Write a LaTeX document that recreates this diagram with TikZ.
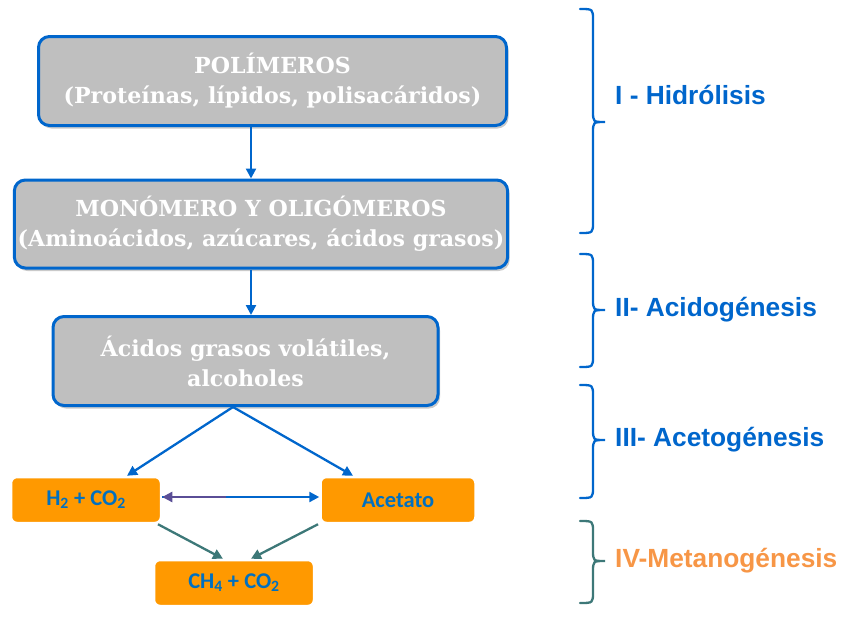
\documentclass[tikz,border=0pt]{standalone}
\usepackage{fontspec}
\usetikzlibrary{arrows.meta,shadows}
\newfontfamily\arialfont{Liberation Sans}
\newfontfamily\calfont{Carlito}
\newfontfamily\serffont{DejaVu Serif}
\definecolor{bblue}{HTML}{0066CC}
\definecolor{tblue}{HTML}{0070C0}
\definecolor{gbox}{HTML}{BFBFBF}
\definecolor{obox}{HTML}{FF9900}
\definecolor{teal2}{HTML}{3D7878}
\definecolor{purp}{HTML}{5A4E96}
\definecolor{olab}{HTML}{F79646}
\tikzset{
  graybox/.style={draw=bblue, line width=3pt, fill=gbox, rounded corners=11pt,
    text=white, font={\serffont\bfseries\fontsize{22.1}{30}\selectfont}, align=center,
    drop shadow={shadow xshift=2pt, shadow yshift=-3pt, opacity=0.35, fill=black!60}},
  orangebox/.style={draw=white, line width=2.5pt, fill=obox, rounded corners=6pt,
    text=tblue, font={\calfont\bfseries\fontsize{22.5}{26}\selectfont}, align=center,
    drop shadow={shadow xshift=0.5pt, shadow yshift=-0.8pt, opacity=0.25, fill=black!50}},
  barrow/.style={draw=bblue, line width=2.3pt, -{Triangle[length=10pt,width=10pt]}},
  tarrow/.style={draw=teal2, line width=2.3pt, -{Triangle[length=10pt,width=10pt]}},
  stagelabel/.style={anchor=west, font={\arialfont\bfseries\fontsize{26.3}{30}\selectfont}, inner sep=0pt},
  bracestyle/.style={line width=2.3pt, line cap=round}
}
\newcommand{\mybrace}[4]{% color, top, tip, bottom
  \draw[bracestyle, draw=#1] (580,#2) .. controls (593,#2) .. (593,#2+11)
    -- (593,#3-11) .. controls (593,#3) .. (605,#3)
    .. controls (593,#3) .. (593,#3+11)
    -- (593,#4-11) .. controls (593,#4) .. (580,#4);}
\begin{document}
\begin{tikzpicture}[x=1pt,y=-1pt]
\useasboundingbox (0,0) rectangle (843,616);

\node[graybox, minimum width=468pt, minimum height=89pt] (b1) at (272.5,81)
  {POLÍMEROS\\(Proteínas, lípidos, polisacáridos)};
\node[graybox, minimum width=490pt, minimum height=88pt] (b2) at (261,224)
  {MONÓMERO Y OLIGÓMEROS\\(Aminoácidos, azúcares, ácidos grasos)};
\node[graybox, minimum width=385pt, minimum height=89pt] (b3) at (245.5,361)
  {Ácidos grasos volátiles,\\alcoholes};

\node[orangebox, minimum width=150pt, minimum height=46pt] (h2) at (86,500)
  {H\textsubscript{2} + CO\textsubscript{2}};
\node[orangebox, minimum width=155pt, minimum height=46pt] (ac) at (398,500)
  {Acetato};
\node[orangebox, minimum width=160pt, minimum height=46pt] (ch4) at (234,583)
  {CH\textsubscript{4} + CO\textsubscript{2}};

\draw[barrow] (251,0 |- b1.south) -- (251,0 |- b2.north);
\draw[barrow] (251,0 |- b2.south) -- (251,0 |- b3.north);
\draw[barrow] (233,0 |- b3.south) -- (127,0 |- h2.north);
\draw[barrow] (233,0 |- b3.south) -- (353,0 |- ac.north);

\draw[draw=bblue, line width=2.3pt, -{Triangle[length=10pt,width=10pt]}] (h2.east |- 0,497) -- (ac.west |- 0,497);
\draw[draw=purp, line width=2.3pt, {Triangle[length=10pt,width=10pt]}-] (h2.east |- 0,497) -- (226,497);

\draw[tarrow] (158,0 |- h2.south) -- (223,0 |- ch4.north);
\draw[tarrow] (318,0 |- ac.south) -- (251,0 |- ch4.north);

\mybrace{bblue}{9}{122}{233}
\mybrace{bblue}{254}{310}{367}
\mybrace{bblue}{385}{440}{498}
\mybrace{teal2}{521}{561}{603}

\node[stagelabel, text=bblue] (l1) at (615,95) {I - Hidrólisis};
\node[stagelabel, text=bblue] (l2) at (615,310) {II- Acidogénesis};
\node[stagelabel, text=bblue] (l3) at (615,440) {III- Acetogénesis};
\node[stagelabel, text=olab] (l4) at (615,561) {IV-Metanogénesis};
\end{tikzpicture}
\end{document}
